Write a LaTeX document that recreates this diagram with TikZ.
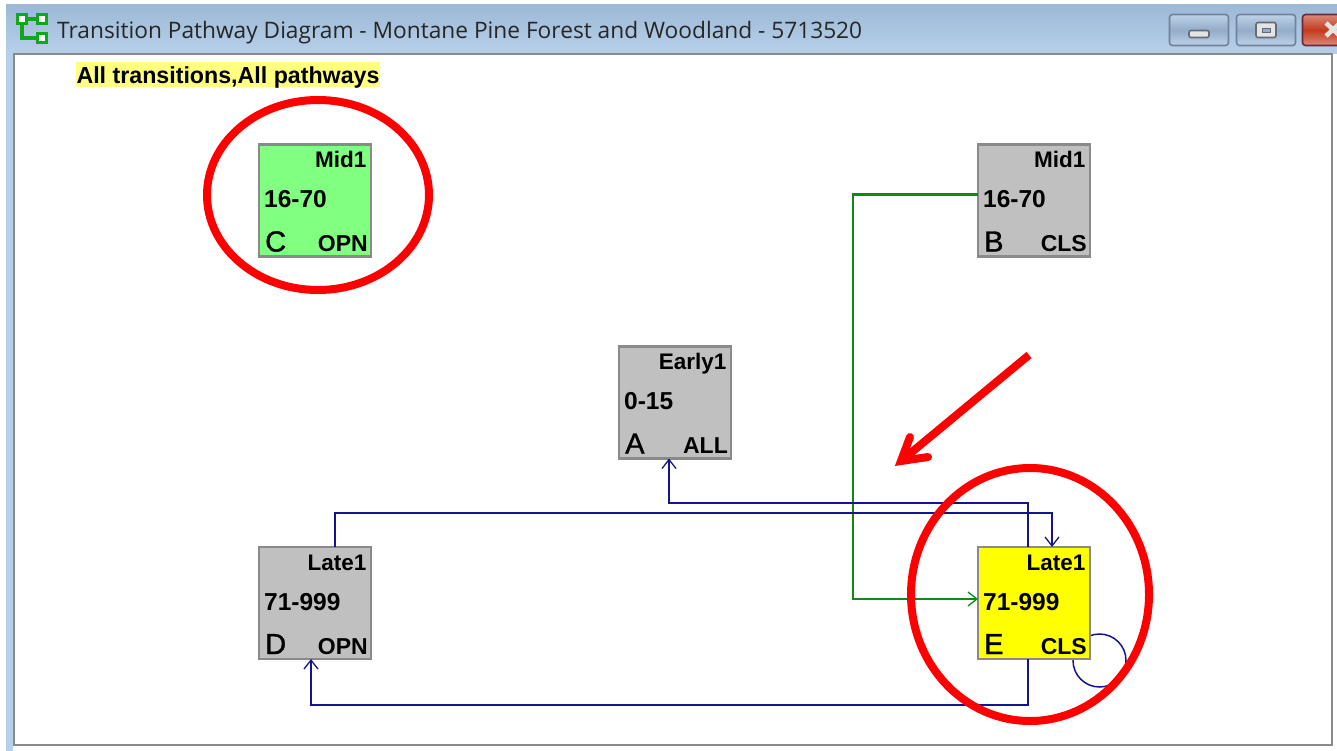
\documentclass[tikz,border=0pt]{standalone}
\usepackage{fontspec}
\setmainfont{Liberation Sans}
\newfontfamily\titlefont{Open Sans}
\newfontfamily\letterfont[FakeBold=1.2]{Liberation Sans}
\usetikzlibrary{arrows.meta,shapes.geometric}
\definecolor{boxgrey}{HTML}{C0C0C0}
\definecolor{boxgreen}{HTML}{80FF80}
\definecolor{boxyellow}{HTML}{FFFF00}
\definecolor{hilite}{HTML}{FFFF80}
\definecolor{linknavy}{HTML}{14148C}
\definecolor{linkgreen}{HTML}{108A10}
\definecolor{markred}{HTML}{FF0000}
\definecolor{framegrey}{HTML}{8A8A8A}
\definecolor{icongreen}{HTML}{10A818}
\definecolor{bartop}{HTML}{9DB9D6}
\definecolor{barbot}{HTML}{B7D0EA}
\definecolor{btnhi}{HTML}{BDD2E8}
\definecolor{btnmid}{HTML}{93ACC8}
\definecolor{btnedge}{HTML}{72829A}
\definecolor{closehi}{HTML}{D98A7C}
\definecolor{closemid}{HTML}{C43C1C}
\definecolor{closeedge}{HTML}{6A2A3C}
\definecolor{glyphedge}{HTML}{666A78}
\definecolor{glyphfill}{HTML}{E4E4E4}
\begin{document}
\begin{tikzpicture}[
  x=1pt, y=-1pt,
  stagebox/.style={rectangle, draw=framegrey, line width=2.2pt, minimum size=112pt,
              inner sep=0pt, outer sep=0pt},
  boldtxt/.style={inner sep=0pt, font=\fontsize{24.5}{26}\selectfont\bfseries},
  stagetxt/.style={inner sep=0pt, font=\fontsize{22.5}{26}\selectfont\bfseries},
  clstxt/.style={inner sep=0pt, font=\fontsize{23}{26}\selectfont\bfseries},
  lettertxt/.style={inner sep=0pt, font=\letterfont\fontsize{29}{30}\selectfont},
  navyline/.style={draw=linknavy, line width=2.3pt},
  greenline/.style={draw=linkgreen, line width=2.3pt},
  opentip/.style={-{Straight Barb[length=9pt,width=14pt,line width=1.3pt]}},
  ring/.style={ellipse, draw=markred, line width=8pt, inner sep=0pt, outer sep=0pt},
  ptrline/.style={draw=markred, line width=8pt},
  winbtn/.style={rectangle, draw=btnedge, line width=1.6pt, rounded corners=3pt, minimum height=31pt,
              minimum width=59pt, inner sep=0pt, outer sep=0pt, top color=btnhi, bottom color=btnhi,
              middle color=btnmid},
  closebtn/.style={winbtn, draw=closeedge, top color=closehi, bottom color=closehi,
              middle color=closemid},
  glyph/.style={rectangle, draw=glyphedge, fill=glyphfill, line width=1.6pt, rounded corners=2pt,
              inner sep=0pt},
  icobox/.style={rectangle, draw=icongreen, fill=white, line width=3.2pt, minimum size=9pt,
              inner sep=0pt}
]
  \useasboundingbox (0,0) rectangle (1337,751);

  % Window
  \shade[top color=bartop, bottom color=barbot] (6,5) rectangle (1337,54);
  \fill[barbot] (6,54) rectangle (13,751);
  \draw[framegrey, line width=2.4pt, fill=white] (14,54) rectangle (1332,745);
  \node[anchor=base west, inner sep=0pt, font=\titlefont\fontsize{22.7}{26}\selectfont, text=black!85] (wintitle)
    at (57,39) {Transition Pathway Diagram - Montane Pine Forest and Woodland - 5713520};

  % Title icon
  \node[icobox] (ic1) at (22,19) {};
  \node[icobox] (ic2) at (42,19) {};
  \node[icobox] (ic3) at (42,38) {};
  \draw[icongreen, line width=3.2pt] (ic1) -- (ic2);
  \draw[icongreen, line width=3.2pt] (ic1.south) |- (ic3.west);

  % Window buttons
  \node[winbtn] (btnmin) at (1199,30) {};
  \node[winbtn] (btnmax) at (1266,30) {};
  \node[closebtn] (btnclose) at (1332,30) {};
  \node[glyph, minimum width=20pt, minimum height=7pt] (glyphmin) at (1199,34) {};
  \node[glyph, minimum width=20pt, minimum height=15pt] (glyphmax) at (1266,30) {};
  \node[rectangle, draw=glyphedge, fill=btnmid, line width=.6pt,
    minimum width=8pt, minimum height=4pt, inner sep=0pt] (glyphmaxin) at (1266,30) {};
  \coordinate (xa) at (1326,23);
  \coordinate (xb) at (1340,36);
  \coordinate (xc) at (1326,36);
  \coordinate (xd) at (1340,23);
  \draw[glyphfill, line width=4.5pt] (xa) -- (xb) (xc) -- (xd);

  % Heading
  \node[fill=hilite, anchor=north, minimum width=304pt, text height=21pt, text depth=4pt, inner sep=0pt,
    font=\fontsize{23.2}{24}\selectfont\bfseries] (heading) at (228,62) {All transitions,All pathways};

  % Self loop goes under the box
  \node[circle, draw=linknavy, line width=1.5pt, minimum size=53pt, inner sep=0pt, outer sep=0pt]
    (loop) at (1099.5,660.5) {};

  % Stage boxes
  \foreach \n/\px/\py/\col/\stage/\rng/\ltr/\cls in {
      c/315/200.5/boxgreen/Mid1/16-70/C/OPN,
      b/1034/200.5/boxgrey/Mid1/16-70/B/CLS,
      a/675/402.5/boxgrey/Early1/0-15/A/ALL,
      d/315/603/boxgrey/Late1/71-999/D/OPN,
      e/1034/603/boxyellow/Late1/71-999/E/CLS} {
    \node[stagebox, fill=\col] (\n) at (\px,\py) {};
    \node[stagetxt, anchor=base east] (\n-stage) at ([xshift=-4.5pt,yshift=-23pt]\n.north east) {\stage};
    \node[boldtxt, anchor=base west] (\n-rng) at ([xshift=5pt,yshift=-63pt]\n.north west) {\rng};
    \node[lettertxt, anchor=base west] (\n-ltr) at ([xshift=6pt,yshift=5pt]\n.south west) {\ltr};
    \node[clstxt, anchor=base east] (\n-cls) at ([xshift=-3pt,yshift=5pt]\n.south east) {\cls};
  }

  % Links
  \draw[greenline, opentip] ([yshift=-50pt]b.north west) -- ++(-125,0) |- ([yshift=-52pt]e.north west);
  \draw[navyline, opentip] ([xshift=50pt]e.north west) -- ++(0,-44) -| ([xshift=50pt]a.south west);
  \draw[navyline, opentip] ([xshift=76pt]d.north west) -- ++(0,-34) -| ([xshift=74pt]e.north west);
  \draw[navyline, opentip] ([xshift=50pt]e.south west) -- ++(0,46) -| ([xshift=52pt]d.south west);

  % Red marks
  \node[ring, minimum width=222pt, minimum height=190pt] (ringc) at (318,195) {};
  \node[ring, minimum width=238pt, minimum height=253pt] (ringe) at (1030,594.5) {};
  \coordinate (ptrtail) at (1029,355);
  \coordinate (ptrtip) at (901,461);
  \coordinate (barba) at (910,437);
  \coordinate (barbb) at (928,457);
  \draw[ptrline] (ptrtail) -- (ptrtip);
  \draw[ptrline, line cap=round, line join=miter, miter limit=10] (barba) -- (ptrtip) -- (barbb);
\end{tikzpicture}
\end{document}
